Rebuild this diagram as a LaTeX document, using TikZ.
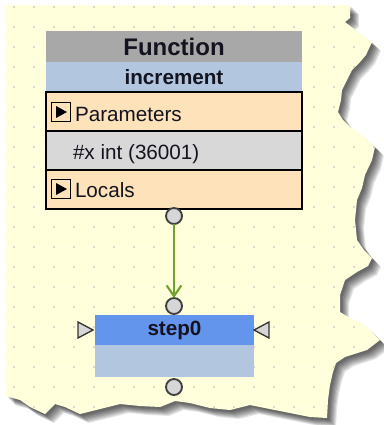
\documentclass[tikz,border=0pt]{standalone}
\usepackage{fontspec}
\setmainfont{Liberation Sans}
\usetikzlibrary{positioning, calc, arrows.meta}

\definecolor{paper}{RGB}{255,255,219}
\definecolor{griddot}{RGB}{178,182,200}
\definecolor{headgray}{RGB}{168,168,168}
\definecolor{namesteel}{RGB}{178,198,224}
\definecolor{rowpeach}{RGB}{253,226,186}
\definecolor{rowgray}{RGB}{216,216,216}
\definecolor{stepblue}{RGB}{100,149,237}
\definecolor{portgray}{RGB}{214,214,214}
\definecolor{flowgreen}{RGB}{112,163,46}
\definecolor{inktext}{RGB}{20,20,32}

\begin{document}
\begin{tikzpicture}[
    x=0.75pt, y=-0.75pt,
    every node/.style={inner sep=0pt, outer sep=0pt, text=inktext},
    band/.style={anchor=north west, minimum width=256*0.75pt},
    fnhead/.style={band, fill=headgray, minimum height=31*0.75pt, font=\fontsize{18}{20}\selectfont\bfseries},
    fnname/.style={band, fill=namesteel, minimum height=30*0.75pt, font=\fontsize{15.5}{18}\selectfont\bfseries},
    fnrow/.style={band, draw=black, line width=1.1pt, minimum height=39*0.75pt},
    rowtext/.style={anchor=base west, font=\fontsize{15.5}{18}\selectfont},
    expander/.style={draw=black, line width=0.9pt, fill=rowpeach, minimum size=19*0.75pt},
    port/.style={circle, draw=black!75, line width=1.4pt, fill=portgray, minimum size=16*0.75pt},
    stephead/.style={anchor=north west, fill=stepblue, minimum width=159*0.75pt, minimum height=30*0.75pt, font=\fontsize{15.5}{18}\selectfont\bfseries},
    stepbody/.style={anchor=north west, fill=namesteel, minimum width=159*0.75pt, minimum height=32*0.75pt},
    sidetri/.style={draw=black!80, line width=1pt, fill=portgray, line join=miter},
    flow/.style={-{Straight Barb[length=8pt, width=11pt, line width=1.6pt]}, line width=2.2pt, flowgreen}
]

    \useasboundingbox (0,0) rectangle (383,425);
    \fill[white] (0,0) rectangle (383,425);

    % --- torn sheet with its shadow ---
    \def\paperpath{(6,5) -- (350,5) -- (350,18) -- (345,22) -- (358,32) -- (372,42) -- (366,55)
        -- (360,62) -- (352,70) -- (347,80) -- (342,90) -- (341,100) -- (338,112) -- (343,120)
        -- (350,127) -- (362,135) -- (375,147) -- (372,160) -- (365,175) -- (362,188) -- (357,200)
        -- (355,220) -- (357,240) -- (364,250) -- (372,258) -- (368,266) -- (357,272) -- (345,280)
        -- (340,295) -- (340,312) -- (350,318) -- (360,322) -- (370,330) -- (380,340) -- (367,350)
        -- (345,357) -- (336,363) -- (333,372) -- (330,385) -- (328,400) -- (327,418) -- (310,417)
        -- (290,413) -- (270,409) -- (250,405) -- (230,410) -- (210,408) -- (190,403) -- (175,401)
        -- (160,407) -- (140,406) -- (120,404) -- (100,409) -- (80,414) -- (65,407) -- (55,404)
        -- (45,414) -- (30,407) -- (20,400) -- (6,396) -- cycle}
    \foreach \d in {9,8,...,2}
        \fill[black, opacity=0.1, shift={(\d,\d)}] \paperpath;
    \fill[paper] \paperpath;
    \begin{scope}
        \clip \paperpath;
        \foreach \i in {0,...,18}
            \foreach \j in {0,...,20}
                \fill[griddot] (14+20*\i, 7+20*\j) circle (0.9);
    \end{scope}

    % --- function block ---
    \node[fnhead] (fnhead) at (46,31) {Function};
    \node[fnname] (fnname) at (46,62) {increment};
    \node[fnrow, fill=rowpeach] (prow) at (46,92) {};
    \node[fnrow, fill=rowgray] (xrow) at (46,131) {};
    \node[fnrow, fill=rowpeach] (lrow) at (46,170) {};

    \node[expander] (pexp) at (61,112) {};
    \node[expander] (lexp) at (61,189) {};
    \foreach \e in {pexp, lexp}
        \fill[black] ([shift={(-5,-6)}]\e.center) -- ++(11,6) -- ++(-11,6) -- cycle;

    \node[rowtext] (ptext) at (75,121) {Parameters};
    \node[rowtext] (xtext) at (73,159) {\#x int (36001)};
    \node[rowtext] (ltext) at (75,197) {Locals};

    % --- step block ---
    \node[stephead] (step) at (95,315) {step0};
    \node[stepbody] (stepbody) at (95,345) {};
    \draw[sidetri] ([shift={(-2,0)}]step.west) -- ++(-15,-8) -- ++(0,16) -- cycle;
    \draw[sidetri] (step.east) -- ++(15,-8) -- ++(0,16) -- cycle;

    % --- ports and link ---
    \node[port] (fnout) at (174,216) {};
    \node[port] (stepin) at (174,306) {};
    \node[port] (stepout) at (174,387) {};
    \draw[flow] (fnout) -- (stepin);

\end{tikzpicture}
\end{document}
